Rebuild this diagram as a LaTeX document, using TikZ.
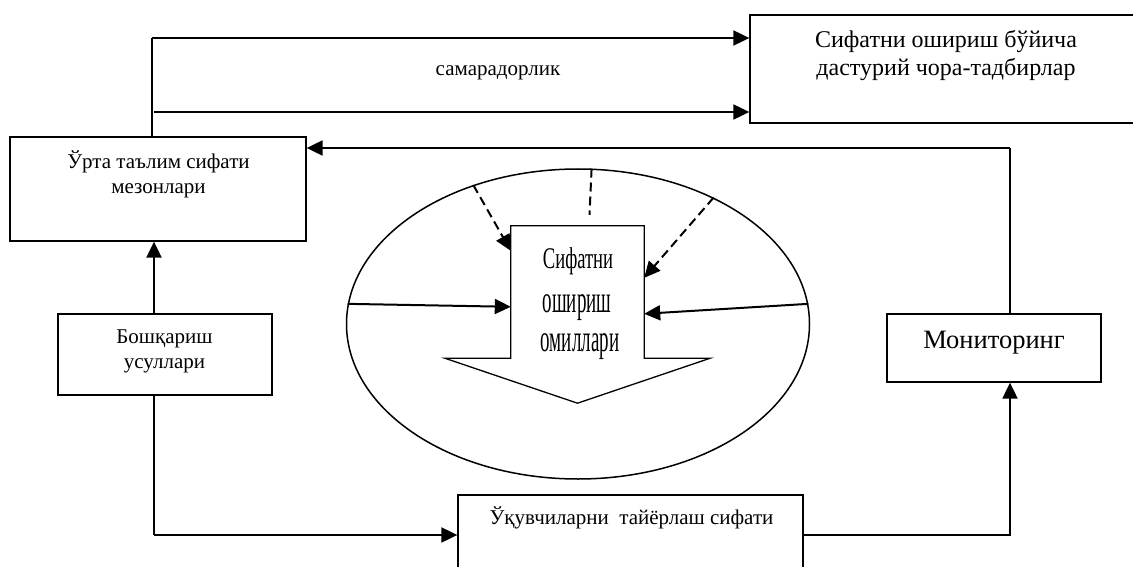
\documentclass[tikz,border=0pt]{standalone}
\usepackage{fontspec}
\setmainfont{Liberation Serif}
\newfontfamily\torA[FakeStretch=0.62]{Liberation Serif}
\newfontfamily\torB[FakeStretch=0.5]{Liberation Serif}
\usetikzlibrary{arrows.meta,calc,positioning,shapes.geometric}
\tikzset{
    >={Triangle[length=16pt,width=15pt]},
    boks/.style={
           rectangle,
           draw=black, line width=1.3pt,
           inner sep=0pt},
    matn/.style={
           inner sep=0pt,
           align=center,
           font=\fontsize{21}{25}\selectfont},
    pil/.style={
           ->,
           line width=2pt},
    ingichka/.style={
           line width=1.3pt}
}

\begin{document}
\begin{tikzpicture}[x=1pt, y=-1pt]
        \useasboundingbox (0,0) rectangle (1133,567);

        \node[boks, minimum width=395pt, minimum height=108pt] (prog) at (947.5,69) {};
        \node[matn, font=\fontsize{24}{28}\selectfont] (prog-t) at (946,56) {Сифатни ошириш бўйича\\дастурий чора-тадбирлар};
        \node[boks, minimum width=296pt, minimum height=104pt] (mezon) at (158,189) {};
        \node[matn] (mezon-t) at (158.5,174) {Ўрта таълим сифати\\мезонлари};
        \node[boks, minimum width=214pt, minimum height=81pt] (boshq) at (165,354.5) {};
        \node[matn] (boshq-t) at (164.5,351.5) {Бошқариш\\усуллари};
        \node[boks, minimum width=214pt, minimum height=68pt] (monit) at (994,348) {};
        \node[matn, font=\fontsize{26.5}{30}\selectfont] (monit-t) at (994,342.5) {Мониторинг};
        \node[boks, minimum width=345pt, minimum height=85pt] (oquv) at (630.5,537.5) {};
        \node[matn] (oquv-t) at (631.5,518) {Ўқувчиларни\ \ тайёрлаш сифати};
        \node[matn] (samar) at (498,72.5) {самарадорлик};

        % omillar
        \node[ellipse, draw, line width=1.5pt, minimum width=463pt, minimum height=310pt, inner sep=0pt] (ell) at (578,324) {};
        \node[inner sep=0pt, minimum width=133pt, minimum height=132pt] (omil) at (577.5,292) {};
        \draw[line width=1.3pt] (omil.south west) -- (omil.north west) -- (omil.north east) -- (omil.south east)
            -- ([xshift=66pt]omil.south east) -- ([yshift=-45pt]omil.south) -- ([xshift=-66pt]omil.south west) -- cycle;
        \node[anchor=base, inner sep=0pt, font=\fontsize{30}{34}\torA] (omil-1) at (578,268) {Сифатни};
        \node[anchor=base, inner sep=0pt, font=\fontsize{38}{42}\torB] (omil-2) at (577,312) {ошириш};
        \node[anchor=base, inner sep=0pt, font=\fontsize{38}{42}\torB] (omil-3) at (580,351) {омиллари};

        \draw[pil, dashed, dash pattern=on 9pt off 5pt] (ell.127.9) -- ([yshift=-25pt]omil.north west);
        \draw[line width=2pt, dash pattern=on 9pt off 5pt] (ell.85.5) -- ([xshift=12pt,yshift=11pt]omil.north);
        \draw[pil, dashed, dash pattern=on 9pt off 5pt] (ell.43.7) -- ([yshift=-52pt]omil.north east);
        \draw[pil] (ell.175.8) -- ([yshift=-81pt]omil.north west);
        \draw[pil] (ell.5.7) -- ([yshift=-88pt]omil.north east);

        \coordinate (k1) at (152,38);
        \coordinate (k2) at (154,112);
        \coordinate (k3) at (1010,148);
        \coordinate (k4) at (154,300);
        \coordinate (k5) at (154,535);
        \coordinate (k6) at (1010,535);

        \draw[ingichka] (mezon.north -| k1) -- (k1);
        \draw[pil] (k1) -- (prog.west |- k1);
        \draw[pil] (k2) -- (prog.west |- k2);
        \draw[ingichka] (monit.north -| k3) -- (k3);
        \draw[pil] (k3) -- (mezon.east |- k3);
        \draw[pil] (boshq.north -| k4) -- (mezon.south -| k4);
        \draw[ingichka] (boshq.south -| k5) -- (k5);
        \draw[pil] (k5) -- (oquv.west |- k5);
        \draw[pil] (oquv.east |- k6) -- (k6) -- (monit.south -| k6);

    \end{tikzpicture}
\end{document}
